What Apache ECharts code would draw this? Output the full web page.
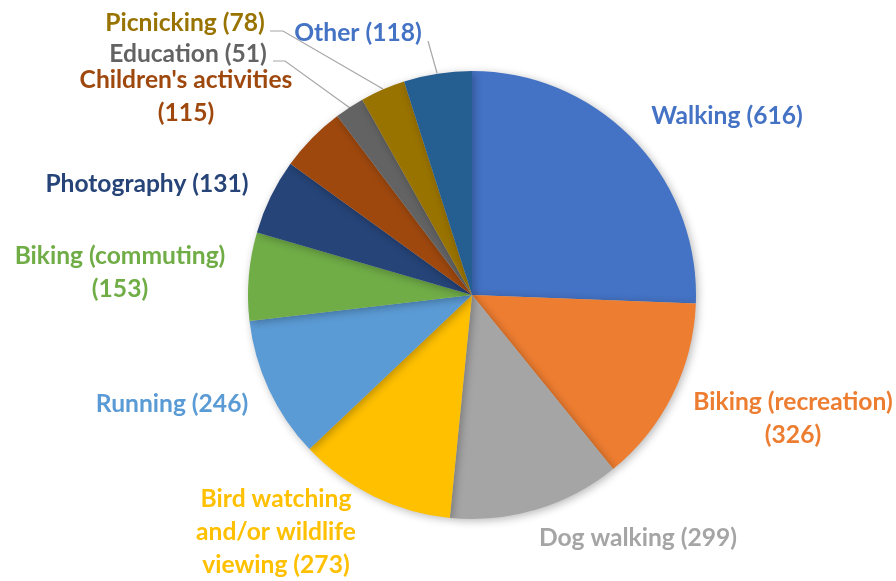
<!DOCTYPE html>
<html><head><meta charset="utf-8">
<script src="https://cdn.jsdelivr.net/npm/echarts@6/dist/echarts.min.js"></script>
<style>html,body{margin:0;padding:0;background:#fff}#c{width:896px;height:581px}</style>
</head><body><div id="c"></div>
<script>
const categories = ['Walking','Biking (recreation)','Dog walking','Bird watching and/or wildlife viewing','Running','Biking (commuting)','Photography',"Children's activities",'Education','Picnicking','Other'];
const values = [616,326,299,273,246,153,131,115,51,78,118];
const labelTexts = ['Walking (616)','Biking (recreation)\n(326)','Dog walking (299)','Bird watching\nand/or wildlife\nviewing (273)','Running (246)','Biking (commuting)\n(153)','Photography (131)',"Children's activities\n(115)",'Education (51)','Picnicking (78)','Other (118)'];

const sliceColors = ['#4472C4','#ED7D31','#A5A5A5','#FFC000','#5B9BD5','#70AD47','#264478','#9E480E','#636363','#997300','#255E91'];
const labelColors = ['#4472C4','#ED7D31','#A5A5A5','#FFC000','#5B9BD5','#70AD47','#264478','#9E480E','#636363','#997300','#4472C4'];
const labelPos = [[727,116],[793,419],[638,538],[276,532],[172,404],[120,273],[147,184],[186,97],[188,54],[185,23],[358,33]];
const leaderLines = {
  8: [[273,61],[285,61],[350,108]],
  9: [[270,31],[283,31],[383,89]],
  10: [[428,41],[437,73]]
};

const chart = echarts.init(document.getElementById('c'), null, {renderer:'canvas'});
chart.setOption({
  animation:false,
  series:[{
    type:'pie',
    center:[472,295],
    radius:224,
    startAngle:90,
    clockwise:true,
    avoidLabelOverlap:false,
    itemStyle:{shadowBlur:8,shadowColor:'rgba(0,0,0,0.28)',shadowOffsetX:2,shadowOffsetY:2},
    label:{
      show:true,position:'outside',
      fontFamily:'Lato',fontWeight:'bold',fontSize:24.6,lineHeight:33,align:'center'
    },
    labelLine:{show:false,lineStyle:{color:'#A6A6A6',width:1.2},smooth:false},
    labelLayout:function(p){
      const i=p.dataIndex;
      const r={x:labelPos[i][0],y:labelPos[i][1],align:'center',verticalAlign:'middle',hideOverlap:false,moveOverlap:false};
      if(leaderLines[i]) r.labelLinePoints=leaderLines[i];
      return r;
    },
    data:categories.map((n,i)=>({
      name:n,value:values[i],
      itemStyle:{color:sliceColors[i]},
      label:{formatter:labelTexts[i],color:labelColors[i]},
      labelLine:{show:!!leaderLines[i]}
    }))
  }]
});
</script></body></html>
